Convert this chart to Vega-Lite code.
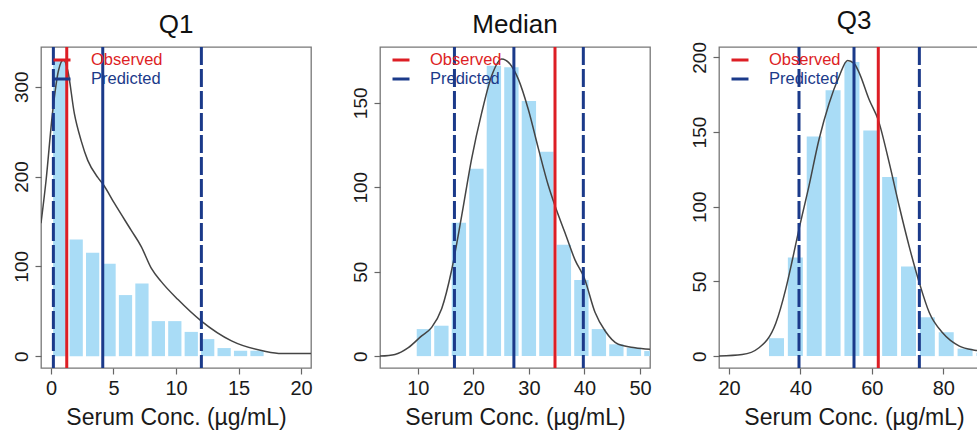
{
  "$schema": "https://vega.github.io/schema/vega-lite/v6.json",
  "background": "white",
  "padding": {"left": 11, "top": 6, "right": 0, "bottom": 0},
  "config": {
    "font": "Liberation Sans",
    "view": {"stroke": "#777", "strokeWidth": 1.3},
    "axis": {"domain": false, "grid": false, "tickColor": "#666", "tickSize": 6, "tickWidth": 1.2,
             "labelFont": "Liberation Sans", "labelFontSize": 19, "labelColor": "#1a1a1a",
             "titleFont": "Liberation Sans", "titleFontSize": 23, "titleFontWeight": "normal", "titleColor": "#1a1a1a"},
    "axisX": {"labelFontSize": 20, "labelPadding": 4, "titlePadding": 8},
    "title": {"font": "Liberation Sans", "fontSize": 26, "fontWeight": "normal", "color": "#111", "anchor": "middle", "offset": 8},
    "legend": {"orient": "none", "legendX": 11, "legendY": 3, "title": null, "symbolType": "stroke", "symbolSize": 289,
               "symbolStrokeWidth": 3, "labelFontSize": 16.5, "labelOffset": 19, "rowPadding": 0, "padding": 0, "labelFont": "Liberation Sans"}
  },
  "datasets": {
    "bars": [
      {"panel": "Q1", "lo": 0.17, "hi": 1.23, "count": 329},
      {"panel": "Q1", "lo": 1.485, "hi": 2.545, "count": 130},
      {"panel": "Q1", "lo": 2.8, "hi": 3.86, "count": 115},
      {"panel": "Q1", "lo": 4.115, "hi": 5.175, "count": 103},
      {"panel": "Q1", "lo": 5.43, "hi": 6.49, "count": 68},
      {"panel": "Q1", "lo": 6.745, "hi": 7.805, "count": 81},
      {"panel": "Q1", "lo": 8.06, "hi": 9.12, "count": 39},
      {"panel": "Q1", "lo": 9.375, "hi": 10.435, "count": 39},
      {"panel": "Q1", "lo": 10.69, "hi": 11.75, "count": 27},
      {"panel": "Q1", "lo": 12.005, "hi": 13.065, "count": 19},
      {"panel": "Q1", "lo": 13.32, "hi": 14.38, "count": 9},
      {"panel": "Q1", "lo": 14.635, "hi": 15.695, "count": 6},
      {"panel": "Q1", "lo": 15.95, "hi": 17.01, "count": 6},
      {"panel": "Median", "lo": 9.81, "hi": 12.39, "count": 16},
      {"panel": "Median", "lo": 12.96, "hi": 15.54, "count": 18},
      {"panel": "Median", "lo": 16.11, "hi": 18.69, "count": 79},
      {"panel": "Median", "lo": 19.26, "hi": 21.84, "count": 111},
      {"panel": "Median", "lo": 22.41, "hi": 24.99, "count": 172},
      {"panel": "Median", "lo": 25.56, "hi": 28.14, "count": 171},
      {"panel": "Median", "lo": 28.71, "hi": 31.29, "count": 151},
      {"panel": "Median", "lo": 31.86, "hi": 34.44, "count": 121},
      {"panel": "Median", "lo": 35.01, "hi": 37.59, "count": 66},
      {"panel": "Median", "lo": 38.16, "hi": 40.74, "count": 45},
      {"panel": "Median", "lo": 41.31, "hi": 43.89, "count": 16},
      {"panel": "Median", "lo": 44.46, "hi": 47.04, "count": 7},
      {"panel": "Median", "lo": 47.61, "hi": 50.19, "count": 5},
      {"panel": "Median", "lo": 50.76, "hi": 53.34, "count": 3},
      {"panel": "Q3", "lo": 31.2, "hi": 35.4, "count": 12},
      {"panel": "Q3", "lo": 36.48, "hi": 40.68, "count": 66},
      {"panel": "Q3", "lo": 41.76, "hi": 45.96, "count": 147},
      {"panel": "Q3", "lo": 47.04, "hi": 51.24, "count": 178},
      {"panel": "Q3", "lo": 52.32, "hi": 56.52, "count": 197},
      {"panel": "Q3", "lo": 57.6, "hi": 61.8, "count": 151},
      {"panel": "Q3", "lo": 62.88, "hi": 67.08, "count": 120},
      {"panel": "Q3", "lo": 68.16, "hi": 72.36, "count": 60},
      {"panel": "Q3", "lo": 73.44, "hi": 77.64, "count": 26},
      {"panel": "Q3", "lo": 78.72, "hi": 82.92, "count": 16},
      {"panel": "Q3", "lo": 84.0, "hi": 88.2, "count": 5},
      {"panel": "Q3", "lo": 89.28, "hi": 93.48, "count": 2}
    ],
    "curve": [
      {"panel": "Q1", "x": -0.8, "y": 148}, {"panel": "Q1", "x": -0.4, "y": 195}, {"panel": "Q1", "x": 0.13, "y": 272},
      {"panel": "Q1", "x": 0.6, "y": 318}, {"panel": "Q1", "x": 1.0, "y": 330}, {"panel": "Q1", "x": 1.34, "y": 318},
      {"panel": "Q1", "x": 1.87, "y": 270}, {"panel": "Q1", "x": 2.41, "y": 240}, {"panel": "Q1", "x": 2.94, "y": 218},
      {"panel": "Q1", "x": 3.74, "y": 199}, {"panel": "Q1", "x": 4.14, "y": 192}, {"panel": "Q1", "x": 5.08, "y": 170},
      {"panel": "Q1", "x": 6.42, "y": 140}, {"panel": "Q1", "x": 7.22, "y": 122}, {"panel": "Q1", "x": 8.02, "y": 98},
      {"panel": "Q1", "x": 8.82, "y": 83}, {"panel": "Q1", "x": 10.16, "y": 63}, {"panel": "Q1", "x": 12.03, "y": 39},
      {"panel": "Q1", "x": 14.44, "y": 17}, {"panel": "Q1", "x": 17.1, "y": 5.5}, {"panel": "Q1", "x": 18.45, "y": 3},
      {"panel": "Q1", "x": 20.8, "y": 3},
      {"panel": "Median", "x": 3.2, "y": 0}, {"panel": "Median", "x": 5.9, "y": 1}, {"panel": "Median", "x": 8.3, "y": 5},
      {"panel": "Median", "x": 10.7, "y": 12}, {"panel": "Median", "x": 12.5, "y": 17}, {"panel": "Median", "x": 14.3, "y": 28},
      {"panel": "Median", "x": 16.1, "y": 51}, {"panel": "Median", "x": 17.9, "y": 83}, {"panel": "Median", "x": 19.7, "y": 117},
      {"panel": "Median", "x": 21.5, "y": 144}, {"panel": "Median", "x": 23.3, "y": 166}, {"panel": "Median", "x": 25.1, "y": 176},
      {"panel": "Median", "x": 26.6, "y": 173}, {"panel": "Median", "x": 28.1, "y": 164}, {"panel": "Median", "x": 29.9, "y": 146},
      {"panel": "Median", "x": 31.7, "y": 123}, {"panel": "Median", "x": 33.5, "y": 101}, {"panel": "Median", "x": 34.7, "y": 89},
      {"panel": "Median", "x": 36.5, "y": 73}, {"panel": "Median", "x": 38.3, "y": 57}, {"panel": "Median", "x": 40.0, "y": 46},
      {"panel": "Median", "x": 41.9, "y": 26}, {"panel": "Median", "x": 43.7, "y": 15}, {"panel": "Median", "x": 46.1, "y": 7},
      {"panel": "Median", "x": 49.1, "y": 5}, {"panel": "Median", "x": 51.8, "y": 4},
      {"panel": "Q3", "x": 17.2, "y": 0}, {"panel": "Q3", "x": 23.7, "y": 1}, {"panel": "Q3", "x": 28.4, "y": 5.6},
      {"panel": "Q3", "x": 33.1, "y": 22}, {"panel": "Q3", "x": 35.9, "y": 45}, {"panel": "Q3", "x": 37.8, "y": 65},
      {"panel": "Q3", "x": 39.6, "y": 85}, {"panel": "Q3", "x": 42.4, "y": 114}, {"panel": "Q3", "x": 45.2, "y": 145},
      {"panel": "Q3", "x": 48.0, "y": 169}, {"panel": "Q3", "x": 50.8, "y": 187}, {"panel": "Q3", "x": 53.2, "y": 198},
      {"panel": "Q3", "x": 55.0, "y": 196}, {"panel": "Q3", "x": 56.4, "y": 190}, {"panel": "Q3", "x": 59.2, "y": 172},
      {"panel": "Q3", "x": 61.8, "y": 158}, {"panel": "Q3", "x": 64.9, "y": 129}, {"panel": "Q3", "x": 67.7, "y": 100},
      {"panel": "Q3", "x": 70.5, "y": 73}, {"panel": "Q3", "x": 73.3, "y": 49}, {"panel": "Q3", "x": 76.1, "y": 29},
      {"panel": "Q3", "x": 79.8, "y": 15.6}, {"panel": "Q3", "x": 84.5, "y": 6.7}, {"panel": "Q3", "x": 89.2, "y": 3.8},
      {"panel": "Q3", "x": 92.8, "y": 2.5}
    ],
    "lines": [
      {"panel": "Q1", "x": 0.19, "type": "Predicted", "style": "interval"},
      {"panel": "Q1", "x": 1.26, "type": "Observed", "style": "point"},
      {"panel": "Q1", "x": 4.14, "type": "Predicted", "style": "point"},
      {"panel": "Q1", "x": 12.03, "type": "Predicted", "style": "interval"},
      {"panel": "Median", "x": 16.6, "type": "Predicted", "style": "interval"},
      {"panel": "Median", "x": 27.3, "type": "Predicted", "style": "point"},
      {"panel": "Median", "x": 34.7, "type": "Observed", "style": "point"},
      {"panel": "Median", "x": 39.8, "type": "Predicted", "style": "interval"},
      {"panel": "Q3", "x": 39.6, "type": "Predicted", "style": "interval"},
      {"panel": "Q3", "x": 55.0, "type": "Predicted", "style": "point"},
      {"panel": "Q3", "x": 61.8, "type": "Observed", "style": "point"},
      {"panel": "Q3", "x": 73.3, "type": "Predicted", "style": "interval"}
    ]
  },
  "hconcat": [
    {
      "title": "Q1",
      "width": 270, "height": 321,
      "layer": [
        {"data": {"name": "bars"}, "transform": [{"filter": "datum.panel === 'Q1'"}],
         "mark": {"type": "rect", "color": "#A9DCF6", "clip": true},
         "encoding": {
           "x": {"field": "lo", "type": "quantitative", "scale": {"domain": [-0.8, 20.8], "nice": false, "zero": false},
                 "axis": {"values": [0, 5, 10, 15, 20], "title": "Serum Conc. (µg/mL)"}},
           "x2": {"field": "hi"},
           "y": {"field": "count", "type": "quantitative", "scale": {"domain": [-13.2, 344.2], "nice": false, "zero": false},
                 "axis": {"values": [0, 100, 200, 300], "title": null, "labelAngle": -90, "labelAlign": "center", "labelBaseline": "alphabetic", "labelPadding": 8}},
           "y2": {"datum": 0}
         }},
        {"data": {"name": "curve"}, "transform": [{"filter": "datum.panel === 'Q1'"}],
         "mark": {"type": "line", "color": "#444", "strokeWidth": 1.5, "interpolate": "monotone", "clip": true},
         "encoding": {"x": {"field": "x", "type": "quantitative"}, "y": {"field": "y", "type": "quantitative"}}},
        {"data": {"name": "lines"}, "transform": [{"filter": "datum.panel === 'Q1'"}],
         "mark": {"type": "rule", "strokeWidth": 3},
         "encoding": {
           "x": {"field": "x", "type": "quantitative"},
           "color": {"field": "type", "type": "nominal", "scale": {"domain": ["Observed", "Predicted"], "range": ["#DD1E25", "#1B3A8A"]},
                     "legend": {"encode": {"labels": {"update": {"fill": {"signal": "datum.value === 'Observed' ? '#DD1E25' : '#1B3A8A'"}}}}}},
           "strokeDash": {"field": "style", "type": "nominal", "scale": {"domain": ["point", "interval"], "range": [[1, 0], [18, 4]]}, "legend": null}
         }}
      ]
    },
    {
      "title": "Median",
      "width": 270, "height": 321,
      "layer": [
        {"data": {"name": "bars"}, "transform": [{"filter": "datum.panel === 'Median'"}],
         "mark": {"type": "rect", "color": "#A9DCF6", "clip": true},
         "encoding": {
           "x": {"field": "lo", "type": "quantitative", "scale": {"domain": [3.2, 51.8], "nice": false, "zero": false},
                 "axis": {"values": [10, 20, 30, 40, 50], "title": "Serum Conc. (µg/mL)"}},
           "x2": {"field": "hi"},
           "y": {"field": "count", "type": "quantitative", "scale": {"domain": [-7.04, 183.04], "nice": false, "zero": false},
                 "axis": {"values": [0, 50, 100, 150], "title": null, "labelAngle": -90, "labelAlign": "center", "labelBaseline": "alphabetic", "labelPadding": 8}},
           "y2": {"datum": 0}
         }},
        {"data": {"name": "curve"}, "transform": [{"filter": "datum.panel === 'Median'"}],
         "mark": {"type": "line", "color": "#444", "strokeWidth": 1.5, "interpolate": "monotone", "clip": true},
         "encoding": {"x": {"field": "x", "type": "quantitative"}, "y": {"field": "y", "type": "quantitative"}}},
        {"data": {"name": "lines"}, "transform": [{"filter": "datum.panel === 'Median'"}],
         "mark": {"type": "rule", "strokeWidth": 3},
         "encoding": {
           "x": {"field": "x", "type": "quantitative"},
           "color": {"field": "type", "type": "nominal", "scale": {"domain": ["Observed", "Predicted"], "range": ["#DD1E25", "#1B3A8A"]},
                     "legend": {"encode": {"labels": {"update": {"fill": {"signal": "datum.value === 'Observed' ? '#DD1E25' : '#1B3A8A'"}}}}}},
           "strokeDash": {"field": "style", "type": "nominal", "scale": {"domain": ["point", "interval"], "range": [[1, 0], [18, 4]]}, "legend": null}
         }}
      ]
    },
    {
      "title": "Q3",
      "width": 270, "height": 321,
      "layer": [
        {"data": {"name": "bars"}, "transform": [{"filter": "datum.panel === 'Q3'"}],
         "mark": {"type": "rect", "color": "#A9DCF6", "clip": true},
         "encoding": {
           "x": {"field": "lo", "type": "quantitative", "scale": {"domain": [17.2, 92.8], "nice": false, "zero": false},
                 "axis": {"values": [20, 40, 60, 80], "title": "Serum Conc. (µg/mL)"}},
           "x2": {"field": "hi"},
           "y": {"field": "count", "type": "quantitative", "scale": {"domain": [-7.96, 206.96], "nice": false, "zero": false},
                 "axis": {"values": [0, 50, 100, 150, 200], "title": null, "labelAngle": -90, "labelAlign": "center", "labelBaseline": "alphabetic", "labelPadding": 8}},
           "y2": {"datum": 0}
         }},
        {"data": {"name": "curve"}, "transform": [{"filter": "datum.panel === 'Q3'"}],
         "mark": {"type": "line", "color": "#444", "strokeWidth": 1.5, "interpolate": "monotone", "clip": true},
         "encoding": {"x": {"field": "x", "type": "quantitative"}, "y": {"field": "y", "type": "quantitative"}}},
        {"data": {"name": "lines"}, "transform": [{"filter": "datum.panel === 'Q3'"}],
         "mark": {"type": "rule", "strokeWidth": 3},
         "encoding": {
           "x": {"field": "x", "type": "quantitative"},
           "color": {"field": "type", "type": "nominal", "scale": {"domain": ["Observed", "Predicted"], "range": ["#DD1E25", "#1B3A8A"]},
                     "legend": {"encode": {"labels": {"update": {"fill": {"signal": "datum.value === 'Observed' ? '#DD1E25' : '#1B3A8A'"}}}}}},
           "strokeDash": {"field": "style", "type": "nominal", "scale": {"domain": ["point", "interval"], "range": [[1, 0], [18, 4]]}, "legend": null}
         }}
      ]
    }
  ],
  "spacing": 69,
  "bounds": "flush",
  "resolve": {"scale": {"x": "independent", "y": "independent", "color": "independent"},
              "legend": {"color": "independent"}}
}
